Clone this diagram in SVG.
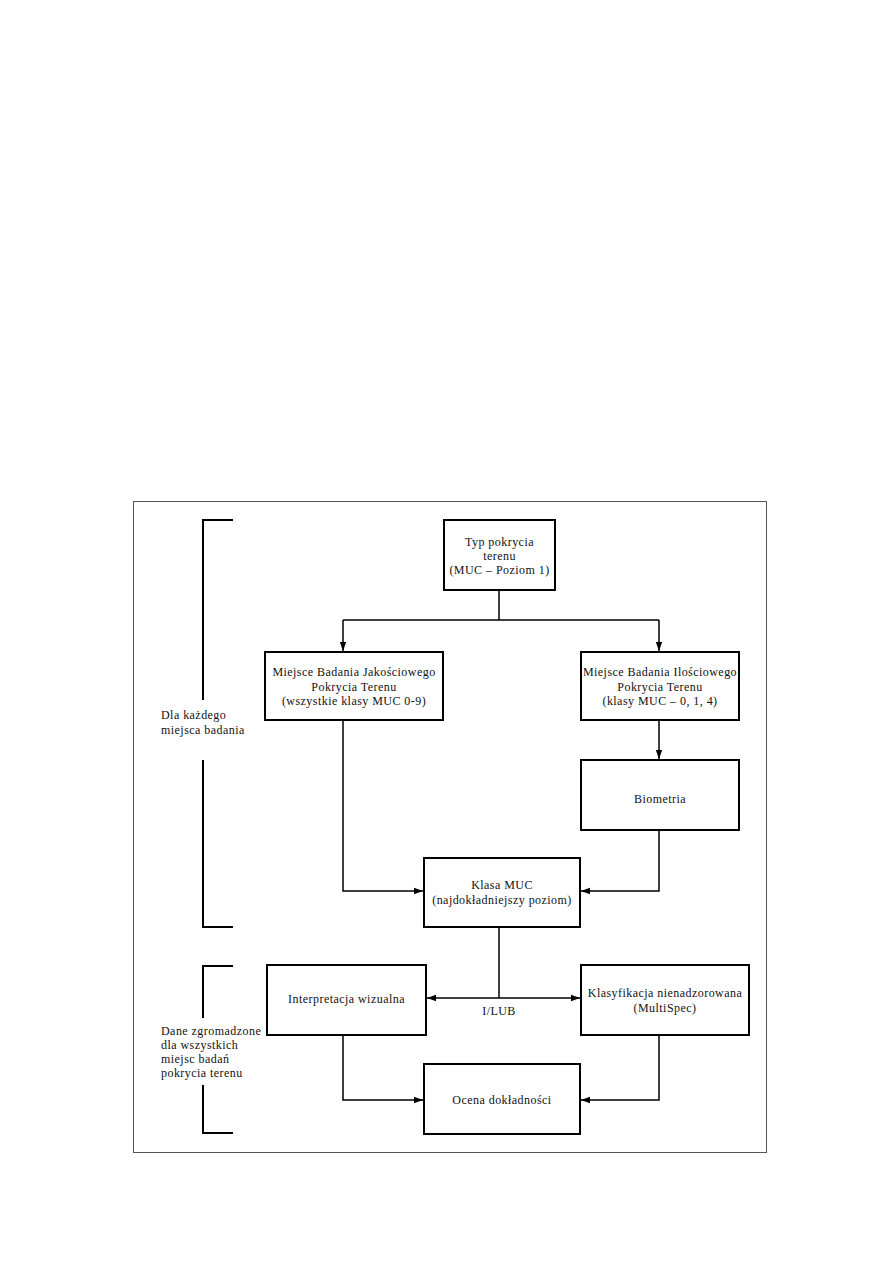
<svg xmlns="http://www.w3.org/2000/svg" width="893" height="1263" viewBox="0 0 893 1263">
<defs>
<marker id="ah" viewBox="0 0 10 10" refX="10" refY="5" markerWidth="9" markerHeight="9" markerUnits="userSpaceOnUse" orient="auto-start-reverse">
<path d="M0,1.5 L10,5 L0,8.5 Z" fill="#000"/>
</marker>
<style>
.box{fill:#fff;stroke:#000;stroke-width:2}
.c{fill:none;stroke:#000;stroke-width:1.5}
.br{fill:none;stroke:#000;stroke-width:2}
text{font-family:"Liberation Serif","Times New Roman",serif;font-size:12px;letter-spacing:0.45px;fill:#111}
.m{text-anchor:middle}
</style>
</defs>
<rect width="893" height="1263" fill="#fff"/>
<rect x="133.5" y="501.5" width="633" height="651" fill="none" stroke="#555" stroke-width="1"/>
<g id="brackets">
<path class="br" d="M233,520 H203 V700 M203,760 V927 H233"/>
<path class="br" d="M233,966 H203 V1018 M203,1085 V1133 H233"/>
</g>
<g id="label-dla">
<text x="161" y="719">Dla każdego</text>
<text x="161" y="734">miejsca badania</text>
</g>
<g id="label-dane">
<text x="161" y="1035">Dane zgromadzone</text>
<text x="161" y="1049">dla wszystkich</text>
<text x="161" y="1063">miejsc badań</text>
<text x="161" y="1077">pokrycia terenu</text>
</g>
<g id="connectors">
<path class="c" d="M499,590 V620"/>
<path class="c" d="M343,620 H659"/>
<path class="c" d="M343,620 V651" marker-end="url(#ah)"/>
<path class="c" d="M659,620 V651" marker-end="url(#ah)"/>
<path class="c" d="M659,720 V759" marker-end="url(#ah)"/>
<path class="c" d="M343,720 V891 H423" marker-end="url(#ah)"/>
<path class="c" d="M659,830 V891 H581" marker-end="url(#ah)"/>
<path class="c" d="M499,927 V998"/>
<path class="c" d="M427,998 H580" marker-start="url(#ah)" marker-end="url(#ah)"/>
<path class="c" d="M343,1035 V1100 H423" marker-end="url(#ah)"/>
<path class="c" d="M659,1035 V1100 H581" marker-end="url(#ah)"/>
<text class="m" x="499" y="1015">I/LUB</text>
</g>
<g id="n-typ">
<rect class="box" x="444" y="520" width="111" height="70"/>
<text class="m" x="499.5" y="546">Typ pokrycia</text>
<text class="m" x="499.5" y="560">terenu</text>
<text class="m" x="499.5" y="574">(MUC – Poziom 1)</text>
</g>
<g id="n-jakosc">
<rect class="box" x="265" y="652" width="178" height="68"/>
<text class="m" x="354" y="676">Miejsce Badania Jakościowego</text>
<text class="m" x="354" y="690.5">Pokrycia Terenu</text>
<text class="m" x="354" y="705">(wszystkie klasy MUC 0-9)</text>
</g>
<g id="n-ilosc">
<rect class="box" x="581" y="652" width="158" height="68"/>
<text class="m" x="660" y="676">Miejsce Badania Ilościowego</text>
<text class="m" x="660" y="690.5">Pokrycia Terenu</text>
<text class="m" x="660" y="705">(klasy MUC – 0, 1, 4)</text>
</g>
<g id="n-bio">
<rect class="box" x="581" y="760" width="158" height="70"/>
<text class="m" x="660" y="803">Biometria</text>
</g>
<g id="n-klasa">
<rect class="box" x="424" y="858" width="156" height="69"/>
<text class="m" x="502" y="889">Klasa MUC</text>
<text class="m" x="502" y="904">(najdokładniejszy poziom)</text>
</g>
<g id="n-interp">
<rect class="box" x="267" y="965" width="159" height="70"/>
<text class="m" x="346.5" y="1003">Interpretacja wizualna</text>
</g>
<g id="n-klasyf">
<rect class="box" x="581" y="965" width="168" height="70"/>
<text class="m" x="665" y="997">Klasyfikacja nienadzorowana</text>
<text class="m" x="665" y="1012">(MultiSpec)</text>
</g>
<g id="n-ocena">
<rect class="box" x="424" y="1064" width="156" height="70"/>
<text class="m" x="502" y="1104">Ocena dokładności</text>
</g>
</svg>
